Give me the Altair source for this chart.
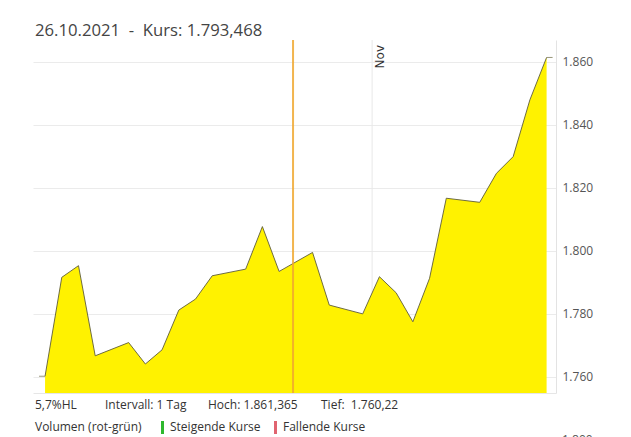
import altair as alt
import pandas as pd

# ---- data ----
dates = [
    "2021-10-12T10:30:00", "2021-10-13T10:30:00", "2021-10-14T10:30:00", "2021-10-15T10:30:00",
    "2021-10-17T10:30:00", "2021-10-18T10:30:00", "2021-10-19T10:30:00", "2021-10-20T10:30:00",
    "2021-10-21T10:30:00", "2021-10-22T10:30:00", "2021-10-24T10:30:00", "2021-10-25T10:30:00",
    "2021-10-26T10:30:00", "2021-10-28T10:30:00", "2021-10-29T10:30:00", "2021-10-31T10:30:00",
    "2021-11-01T10:30:00", "2021-11-02T10:30:00", "2021-11-03T10:30:00", "2021-11-04T10:30:00",
    "2021-11-05T10:30:00", "2021-11-07T10:30:00", "2021-11-08T10:30:00", "2021-11-09T10:30:00",
    "2021-11-10T10:30:00", "2021-11-11T10:30:00",
]
values = [
    1760.22, 1791.6, 1795.3, 1766.7, 1770.9, 1764.1, 1768.6, 1781.2,
    1784.7, 1792.1, 1794.2, 1807.7, 1793.468, 1799.5, 1782.8, 1780.0,
    1791.8, 1786.7, 1777.5, 1791.3, 1816.7, 1815.4, 1824.6, 1829.9,
    1847.9, 1861.365,
]
y_ticks = [1760, 1780, 1800, 1820, 1840, 1860]
month_dates = ["2021-11-01T00:00:00"]
month_labels = ["Nov"]
cursor_date = ["2021-10-27T06:30:00"]

NB = "\u00a0"
header = f"26.10.2021{NB}{NB}-{NB}{NB}Kurs: 1.793,468"
info_texts = ["5,7%HL", "Intervall: 1 Tag", "Hoch: 1.861,365", f"Tief:{NB}{NB}1.760,22"]
legend_texts = ["Volumen (rot-grün)", "Steigende Kurse", "Fallende Kurse"]
legend_colors = ["#2eb82e", "#e06470"]
next_chart_label = "1.800"

x_domain = [alt.DateTime(year=2021, month=10, date=11, hours=17, minutes=12),
            alt.DateTime(year=2021, month=11, date=12, hours=0)]
y_domain = [1754.9, 1866.9]

W, H = 523, 353

df = pd.DataFrame({"date": dates, "value": values})

xscale = alt.Scale(domain=x_domain)
yscale = alt.Scale(domain=y_domain, nice=False, zero=False)

x_enc = alt.X("date:T", scale=xscale,
              axis=alt.Axis(labels=False, ticks=False, grid=False, title=None,
                            domainColor="#e6e6e6"))
y_enc = alt.Y("value:Q", scale=yscale,
              axis=alt.Axis(orient="right", values=y_ticks, title=None,
                            labelExpr="replace(format(datum.value, ','), ',', '.')",
                            grid=True, gridColor="#ebebeb", domainColor="#e3e3e3",
                            ticks=False, labelPadding=6, labelColor="#555555",
                            labelFontSize=12, labelFont="Open Sans"))

month_df = pd.DataFrame({"date": month_dates, "label": month_labels})
month_rule = alt.Chart(month_df).mark_rule(color="#e8e8e8", strokeWidth=1).encode(
    x=alt.X("date:T", scale=xscale))

area = alt.Chart(df).mark_area(
    color="#fff200",
    line={"color": "#5f5c3a", "strokeWidth": 0.9},
    opacity=1,
).encode(x=x_enc, y=y_enc, y2=alt.datum(y_domain[0]))

open_tick = alt.Chart(df.head(1)).mark_tick(
    orient="horizontal", size=6, thickness=1, color="#6b6840", xOffset=-3
).encode(x=alt.X("date:T", scale=xscale), y=alt.Y("value:Q", scale=yscale))
close_tick = alt.Chart(df.tail(1)).mark_tick(
    orient="horizontal", size=6, thickness=1, color="#6b6840", xOffset=3
).encode(x=alt.X("date:T", scale=xscale), y=alt.Y("value:Q", scale=yscale))

month_text = alt.Chart(month_df).mark_text(
    angle=270, align="right", baseline="top", xOffset=3,
    fontSize=12, color="#333333", font="DejaVu Sans"
).encode(x=alt.X("date:T", scale=xscale), y=alt.value(5), text="label:N")

cursor = alt.Chart(pd.DataFrame({"date": cursor_date})).mark_rule(
    color="#f0a830", strokeWidth=2, opacity=0.85
).encode(x=alt.X("date:T", scale=xscale))

layers = [month_rule, area, open_tick, close_tick, month_text, cursor]

def txt(s, x, y, size=12, color="#333333", font="Open Sans",
        align="left", baseline="middle"):
    return alt.Chart(pd.DataFrame({"t": [s]})).mark_text(
        align=align, baseline=baseline, fontSize=size, color=color, font=font
    ).encode(x=alt.value(x), y=alt.value(y), text="t:N")

layers.append(txt(header, 2, -9, size=16.7, color="#444444", font="Open Sans"))
for s, x in zip(info_texts, [2, 72, 175, 288]):
    layers.append(txt(s, x, 365, size=12))
for s, x in zip(legend_texts, [2, 137, 250]):
    layers.append(txt(s, x, 387, size=12))
for c, x in zip(legend_colors, [128, 241]):
    layers.append(alt.Chart(pd.DataFrame({"c": [c]})).mark_rect(color=c).encode(
        x=alt.value(x), x2=alt.value(x + 3), y=alt.value(381), y2=alt.value(394)))
layers.append(txt(next_chart_label, 529, 395, size=12, color="#555555", font="Open Sans",
                  baseline="top"))

chart = alt.layer(*layers).properties(
    width=W, height=H,
    autosize=alt.AutoSizeParams(type="none"),
    padding={"left": 25, "top": 32, "right": 67, "bottom": 60},
).configure_view(stroke=None)

chart.save("out.html", embed_options={"renderer": "svg", "actions": False})
